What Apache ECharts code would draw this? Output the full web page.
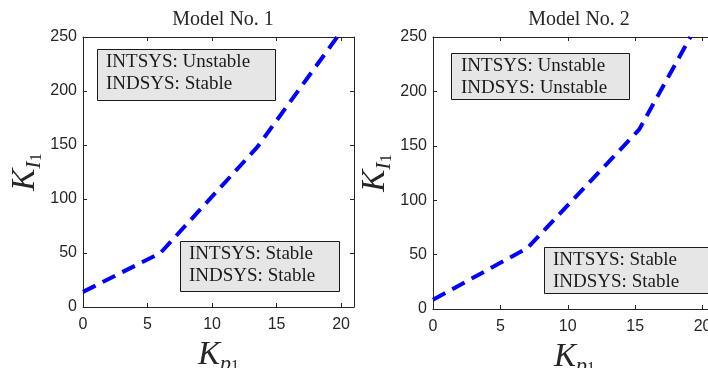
<!DOCTYPE html>
<html>
<head>
<meta charset="utf-8">
<script src="https://cdn.jsdelivr.net/npm/echarts@6/dist/echarts.min.js"></script>
<style>
  html, body { margin: 0; padding: 0; background: #fff; }
  #chart { width: 708px; height: 368px; }
</style>
</head>
<body>
<div id="chart"></div>
<script>
// Stability boundary of the PI gains for two plant models
const panelTitles = ['Model No. 1', 'Model No. 2'];
const xTicks = [0, 5, 10, 15, 20];
const yTicks = [0, 50, 100, 150, 200, 250];

// Model No. 1 boundary (Kp1, KI1)
const kp1Model1 = [0, 6, 13.5, 19.7];
const ki1Model1 = [14, 50, 148, 250];

// Model No. 2 boundary (Kp1, KI1)
const kp1Model2 = [0, 7, 15.3, 19.1];
const ki1Model2 = [8.5, 56, 165, 250];

// Region annotations: [upper-left box, lower-right box] for each panel
const regionNotes = [
  [['INTSYS: Unstable', 'INDSYS: Stable'], ['INTSYS: Stable', 'INDSYS: Stable']],
  [['INTSYS: Unstable', 'INDSYS: Unstable'], ['INTSYS: Stable', 'INDSYS: Stable']]
];

const AX = '#262626';
const serif = '"Liberation Serif", "Times New Roman", serif';
const sans = '"Liberation Sans", Arial, Helvetica, sans-serif';

const grids = [
  { left: 83, top: 37, width: 271, height: 270, containLabel: false, outerBoundsMode: 'none' },
  { left: 433, top: 37, width: 283, height: 272, containLabel: false, outerBoundsMode: 'none' }
];

function nameRich() {
  return {
    k: { fontFamily: serif, fontStyle: 'italic', fontSize: 33, lineHeight: 40, color: AX, verticalAlign: 'middle' },
    s: { fontFamily: serif, fontStyle: 'italic', fontSize: 22, lineHeight: 22, color: AX, verticalAlign: 'bottom' },
    ss: { fontFamily: serif, fontSize: 16, lineHeight: 6, color: AX, verticalAlign: 'bottom' }
  };
}

const xAxes = [], yAxes = [], series = [];
[[kp1Model1, ki1Model1], [kp1Model2, ki1Model2]].forEach(function (d, i) {
  const tickStyle = { show: true, inside: true, length: 4, customValues: xTicks, lineStyle: { color: AX, width: 1 } };
  xAxes.push({
    gridIndex: i, type: 'value', min: 0, max: 21, position: 'bottom',
    axisLine: { show: true, onZero: false, lineStyle: { color: AX, width: 1 } },
    axisTick: tickStyle,
    axisLabel: { customValues: xTicks, color: AX, fontFamily: sans, fontSize: 16, margin: 10 },
    splitLine: { show: false },
    name: '{k|K}{s|p}{ss|1}', nameLocation: 'middle', nameGap: 28,
    nameTextStyle: { rich: nameRich() }
  });
  xAxes.push({
    gridIndex: i, type: 'value', min: 0, max: 21, position: 'top',
    axisLine: { show: true, onZero: false, lineStyle: { color: AX, width: 1 } },
    axisTick: tickStyle,
    axisLabel: { show: false }, splitLine: { show: false }
  });
  const yTickStyle = { show: true, inside: true, length: 4, customValues: yTicks, lineStyle: { color: AX, width: 1 } };
  yAxes.push({
    gridIndex: i, type: 'value', min: 0, max: 250, position: 'left',
    axisLine: { show: true, onZero: false, lineStyle: { color: AX, width: 1 } },
    axisTick: yTickStyle,
    axisLabel: { customValues: yTicks, color: AX, fontFamily: sans, fontSize: 16, margin: 6 },
    splitLine: { show: false },
    name: '{k|K}{s|I}{ss|1}', nameLocation: 'middle', nameGap: 38, nameRotate: 90,
    nameTextStyle: { rich: nameRich() }
  });
  yAxes.push({
    gridIndex: i, type: 'value', min: 0, max: 250, position: 'right',
    axisLine: { show: true, onZero: false, lineStyle: { color: AX, width: 1 } },
    axisTick: yTickStyle,
    axisLabel: { show: false }, splitLine: { show: false }
  });
  series.push({
    type: 'line', xAxisIndex: i * 2, yAxisIndex: i * 2,
    data: d[0].map(function (x, j) { return [x, d[1][j]]; }),
    showSymbol: false, symbol: 'none', clip: true, z: 3,
    lineStyle: { color: '#0000ff', width: 4, type: [14, 8], cap: 'butt' },
    animation: false
  });
});

// Annotation boxes (pixel placement inside each panel)
const boxes = [
  { x: 97, y: 49, w: 178, h: 51, tx: 106, ty: [62, 84], lines: regionNotes[0][0] },
  { x: 180, y: 241, w: 159, h: 50, tx: 189, ty: [254, 276], lines: regionNotes[0][1] },
  { x: 451, y: 53, w: 178, h: 46, tx: 461, ty: [66, 88], lines: regionNotes[1][0] },
  { x: 544, y: 247, w: 170, h: 46, tx: 553, ty: [260, 282], lines: regionNotes[1][1] }
];
const graphics = [];
boxes.forEach(function (b) {
  graphics.push({
    type: 'rect', shape: { x: b.x + 0.5, y: b.y + 0.5, width: b.w, height: b.h },
    style: { fill: '#e6e6e6', stroke: '#1a1a1a', lineWidth: 1 }, z: 10
  });
  b.lines.forEach(function (t, k) {
    graphics.push({
      type: 'text', x: b.tx, y: b.ty[k], z: 11,
      style: { text: t, fill: '#1a1a1a', font: '19px ' + serif, textVerticalAlign: 'middle', textAlign: 'left' }
    });
  });
});

const option = {
  animation: false,
  backgroundColor: '#ffffff',
  title: panelTitles.map(function (t, i) {
    return {
      text: t, left: i === 0 ? 218 : 574, top: 5, textAlign: 'center',
      textStyle: { fontFamily: serif, fontWeight: 'normal', fontSize: 20, color: AX }
    };
  }),
  grid: grids,
  xAxis: xAxes,
  yAxis: yAxes,
  series: series,
  graphic: graphics
};

const chart = echarts.init(document.getElementById('chart'), null, { renderer: 'canvas' });
chart.setOption(option);
</script>
</body>
</html>
